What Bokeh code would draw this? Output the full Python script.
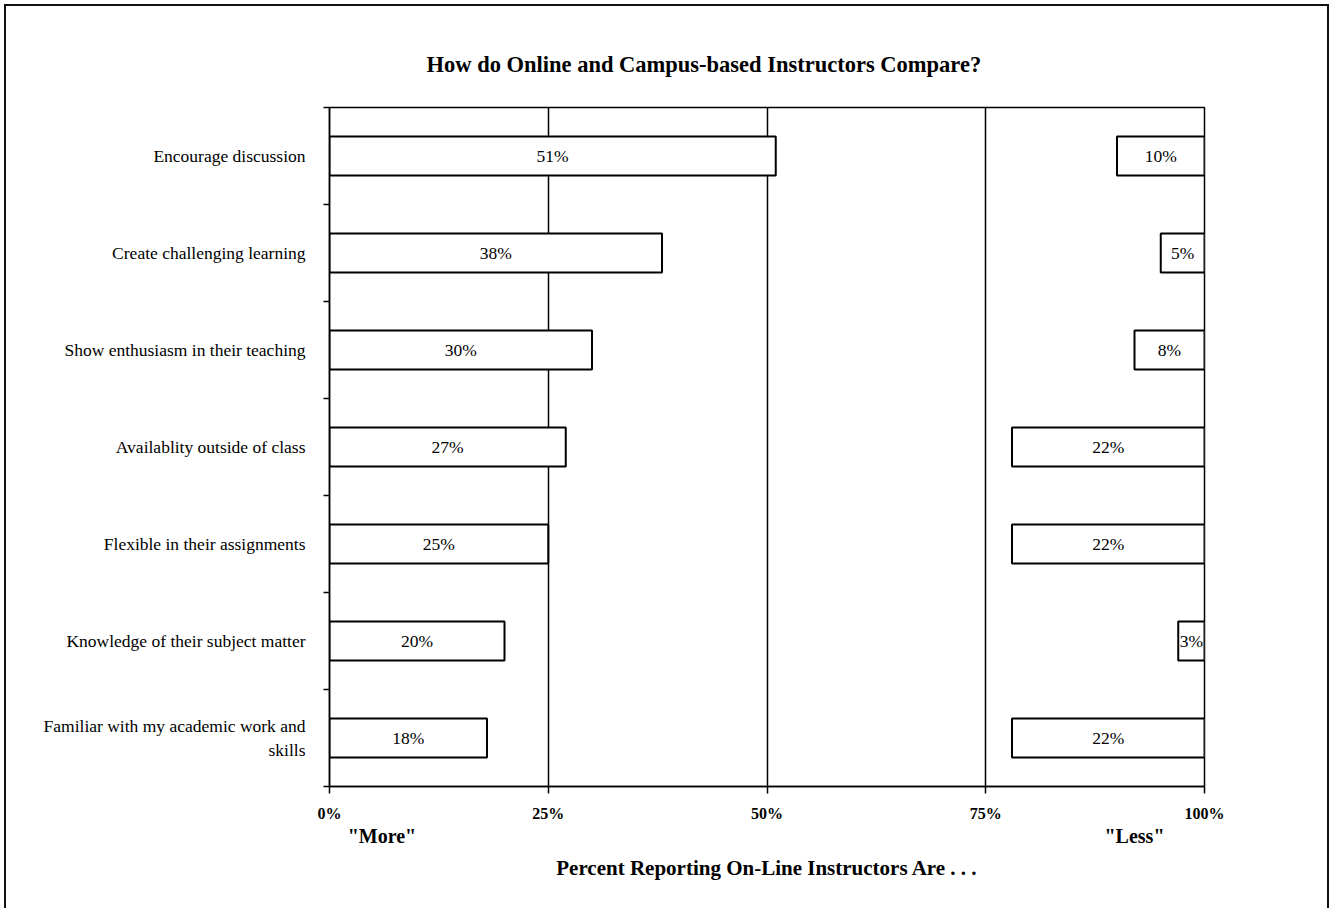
from bokeh.plotting import figure
from bokeh.models import Range1d, FixedTicker, ColumnDataSource, LinearAxis
from bokeh.embed import file_html
from bokeh.resources import INLINE
from bokeh.core.properties import value

# Survey items, top to bottom
items = [
    "Encourage discussion",
    "Create challenging learning",
    "Show enthusiasm in their teaching",
    "Availablity outside of class",
    "Flexible in their assignments",
    "Knowledge of their subject matter",
    "Familiar with my academic work and\nskills",
]
# Percent saying on-line instructors are "More" / "Less"
more_pct = [51, 38, 30, 27, 25, 20, 18]
less_pct = [10, 5, 8, 22, 22, 3, 22]
x_ticks = [0, 25, 50, 75, 100]
x_tick_labels = ["0%", "25%", "50%", "75%", "100%"]
side_ticks = [6.0, 92.0]
side_labels = ['"More"', '"Less"']

SERIF = "Liberation Serif"
n = len(items)
pos = [i + 0.5 for i in range(n)]

more_src = ColumnDataSource(dict(
    y=pos, left=[0] * n, right=more_pct,
    tx=[v / 2 for v in more_pct], label=[f"{v}%" for v in more_pct]))
less_src = ColumnDataSource(dict(
    y=pos, left=[100 - v for v in less_pct], right=[100] * n,
    tx=[100 - v / 2 for v in less_pct], label=[f"{v}%" for v in less_pct]))

p = figure(width=1325, height=910,
           x_range=Range1d(0, 100), y_range=Range1d(n, 0),
           output_backend="svg", toolbar_location=None,
           min_border_left=323, min_border_right=127,
           min_border_top=101, min_border_bottom=130,
           background_fill_color="white", border_fill_color="white")
p.styles = {"margin-left": "4px", "margin-top": "4px",
            "border-left": "2px solid #111", "border-top": "2px solid #111",
            "border-right": "2px solid #111"}

p.title.text = "How do Online and Campus-based Instructors Compare?"
p.title.align = "left"
p.title.offset = 97
p.title.text_font = SERIF
p.title.text_font_style = "bold"
p.title.text_font_size = "22.5px"
p.title.text_color = "black"
p.title.standoff = 62

p.outline_line_color = "black"
p.outline_line_width = 1.5

# vertical reference lines
p.xgrid.ticker = FixedTicker(ticks=x_ticks)
p.xgrid.grid_line_color = "black"
p.xgrid.grid_line_width = 1.5
p.ygrid.grid_line_color = None

for src in (more_src, less_src):
    p.hbar(y="y", left="left", right="right", height=0.4, source=src,
           fill_color="white", line_color="black", line_width=2)
    p.text(x="tx", y="y", text="label", source=src,
           text_font=value(SERIF), text_font_size="17.5px",
           text_align="center", text_baseline="middle", text_color="black")

# x axis with percent ticks
xa = p.xaxis[0]
xa.ticker = FixedTicker(ticks=x_ticks)
xa.major_label_overrides = dict(zip(x_ticks, x_tick_labels))
xa.major_tick_in = 0
xa.major_tick_out = 7
xa.minor_tick_line_color = None
xa.axis_line_width = 1.5
xa.major_tick_line_width = 1.5
xa.major_label_standoff = 11
xa.major_label_text_font = SERIF
xa.major_label_text_font_style = "bold"
xa.major_label_text_font_size = "16px"
xa.major_label_text_color = "black"

# second row below: "More" / "Less" and the axis title
xb = LinearAxis(ticker=FixedTicker(ticks=side_ticks),
                major_label_overrides=dict(zip(side_ticks, side_labels)))
xb.axis_line_color = None
xb.major_tick_line_color = None
xb.minor_tick_line_color = None
xb.major_tick_in = 0
xb.major_tick_out = 0
xb.major_label_standoff = 0
xb.major_label_text_font = SERIF
xb.major_label_text_font_style = "bold"
xb.major_label_text_font_size = "20px"
xb.major_label_text_color = "black"
xb.axis_label = "Percent Reporting On-Line Instructors Are . . ."
xb.axis_label_text_font = SERIF
xb.axis_label_text_font_style = "bold"
xb.axis_label_text_font_size = "21px"
xb.axis_label_text_color = "black"
xb.axis_label_standoff = 6
p.add_layout(xb, "below")

# y axis: labels at item centers, ticks at item boundaries
ya = p.yaxis[0]
ya.ticker = FixedTicker(ticks=pos, minor_ticks=list(range(n + 1)))
ya.major_label_overrides = dict(zip(pos, items))
ya.major_tick_line_color = None
ya.minor_tick_in = 0
ya.minor_tick_out = 6
ya.minor_tick_line_width = 1.5
ya.axis_line_width = 1.5
ya.major_label_standoff = 18
ya.major_label_text_font = SERIF
ya.major_label_text_font_size = "17.5px"
ya.major_label_text_color = "black"

open("out.html", "w").write(file_html(p, INLINE))
